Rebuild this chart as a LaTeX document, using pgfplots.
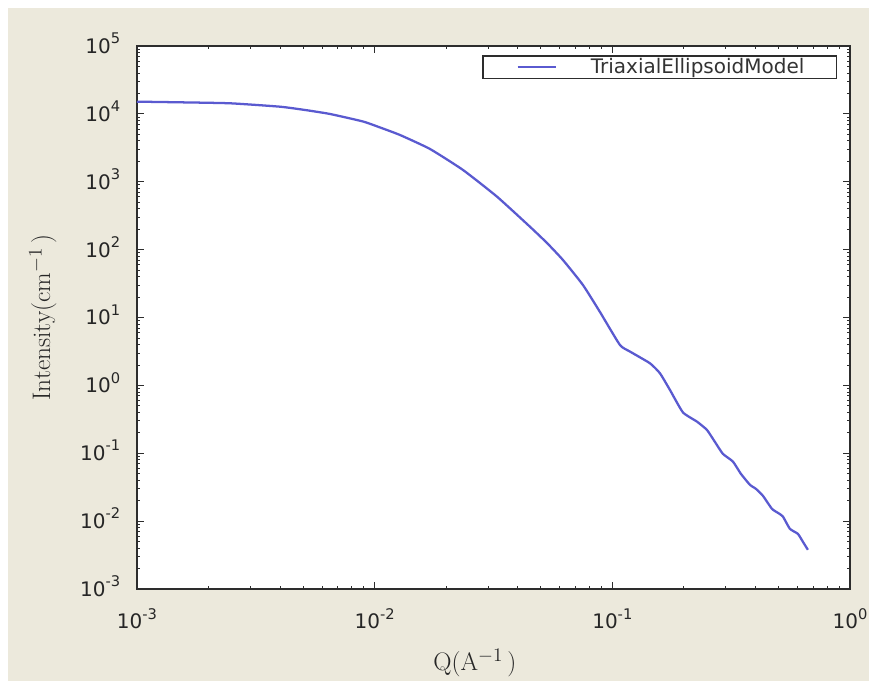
\documentclass[border=0pt]{standalone}
\usepackage{fontspec}
\setsansfont{DejaVu Sans}
\usepackage{pgfplots}
\pgfplotsset{compat=1.18}
\definecolor{bgbeige}{RGB}{236,233,220}
\definecolor{curveblue}{RGB}{90,90,208}
\definecolor{axgray}{RGB}{45,45,45}
% tick label: 10 with a raised exponent
\newcommand{\tl}[1]{10\raisebox{0.48em}{\fontsize{11}{11}\selectfont #1}}

\begin{document}
\begin{tikzpicture}
% page background: white rim, beige panel
\fill[white] (-102.75pt,-72pt) rectangle (552pt,441.75pt);
\fill[bgbeige] (-96.75pt,-69pt) rectangle (549pt,435.75pt);

\begin{loglogaxis}[
    at={(0,0)}, anchor=south west,
    width=534.75pt, height=407.25pt,
    scale only axis=true,
    xmin=1e-3, xmax=1,
    ymin=1e-3, ymax=1e5,
    axis background/.style={fill=white},
    axis line style={axgray, line width=1.2pt},
    tick style={axgray, line width=0.6pt},
    major tick length=5pt,
    minor tick length=2.5pt,
    tick align=inside,
    xtick={1e-3,1e-2,1e-1,1},
    xticklabels={\tl{-3},\tl{-2},\tl{-1},\tl{0}},
    ytick={1e-3,1e-2,1e-1,1,1e1,1e2,1e3,1e4,1e5},
    yticklabels={\tl{-3},\tl{-2},\tl{-1},\tl{0},\tl{1},\tl{2},\tl{3},\tl{4},\tl{5}},
    tick label style={font=\sffamily\fontsize{15}{15}\selectfont, text=black!85},
    xticklabel style={yshift=-11pt},
    yticklabel style={xshift=-9pt, yshift=2pt},
    label style={font=\fontsize{19}{20}\selectfont, text=black!85},
    xlabel={Q(A$^{-1}$\,)},
    ylabel={Intensity(cm$^{-1}$\,)},
    xlabel style={at={(axis description cs:0.474,-0.136)}, anchor=center},
    ylabel style={at={(axis description cs:-0.132,0.5)}, anchor=center},
    legend style={
        at={(axis description cs:0.982,0.983)}, anchor=north east,
        draw=axgray, line width=1.2pt, fill=white,
        inner sep=0pt,
        nodes={inner sep=0pt},
        font=\sffamily\fontsize{15}{15}\selectfont,
        text=black!80,
    },
    legend image code/.code={
        \path[draw=none, fill=none] (-26pt,-8.5pt) rectangle (55pt,8.5pt);
        \draw[#1] (0pt,0pt) -- (29pt,0pt);
    },
]

\addplot[curveblue, line width=1.7pt, smooth, tension=0.3] coordinates {
    (0.001000, 15136)
    (0.001518, 14800)
    (0.002462, 14320)
    (0.003997, 12760)
    (0.005091, 11416)
    (0.006486, 9966)
    (0.008929, 7727)
    (0.01053, 6310)
    (0.01278, 4887)
    (0.01709, 3041)
    (0.02352, 1493)
    (0.03270, 604)
    (0.04499, 218)
    (0.05307, 125.5)
    (0.06196, 70.5)
    (0.07520, 30.2)
    (0.08868, 12.09)
    (0.1076, 3.95)
    (0.1186, 3.15)
    (0.1439, 2.12)
    (0.1586, 1.51)
    (0.1747, 0.859)
    (0.1982, 0.400)
    (0.2269, 0.293)
    (0.2500, 0.221)
    (0.2702, 0.147)
    (0.2919, 0.0980)
    (0.3216, 0.0755)
    (0.3475, 0.0498)
    (0.3793, 0.0343)
    (0.4020, 0.0299)
    (0.4302, 0.0236)
    (0.4693, 0.0152)
    (0.4973, 0.01325)
    (0.5221, 0.0117)
    (0.5586, 0.00771)
    (0.6036, 0.0065)
    (0.6338, 0.00496)
    (0.6651, 0.00378)
};
\addlegendentry{TriaxialEllipsoidModel\hspace*{24pt}}

\end{loglogaxis}
\end{tikzpicture}
\end{document}
